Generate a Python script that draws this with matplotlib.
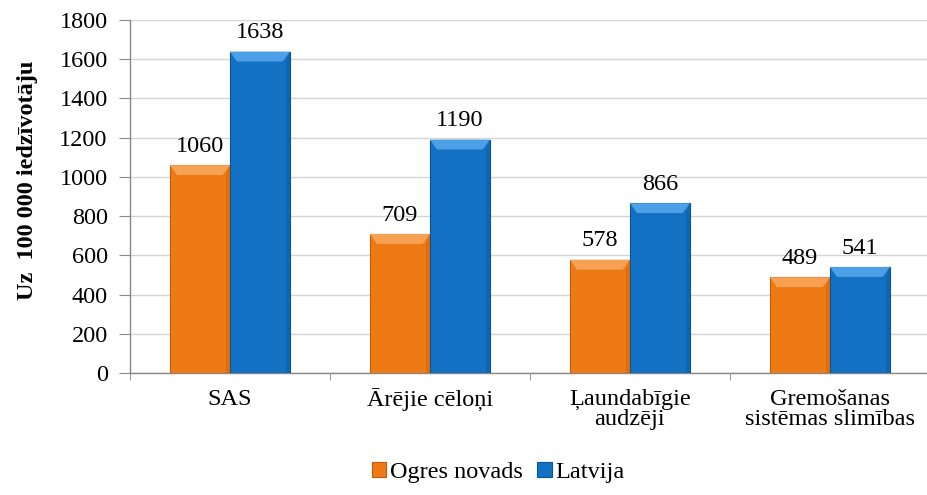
import matplotlib
matplotlib.use("Agg")
import matplotlib.pyplot as plt
import numpy as np
from matplotlib.patches import Polygon

plt.rcParams['font.family'] = ['Liberation Serif', 'DejaVu Serif']

categories = ["SAS", "Ārējie cēloņi", "Ļaundabīgie\naudzēji", "Gremošanas\nsistēmas slimības"]
ogre = [1060, 709, 578, 489]
latvija = [1638, 1190, 866, 541]
series_names = ["Ogres novads", "Latvija"]
yticks = [0, 200, 400, 600, 800, 1000, 1200, 1400, 1600, 1800]

c_orange = '#EE7A15'
c_orange_dark = '#C25C08'
c_orange_light = '#F7A153'
c_blue = '#1371C4'
c_blue_dark = '#0A5396'
c_blue_light = '#4DA0E6'

FS = 17.5

fig = plt.figure(figsize=(9.28, 4.95), dpi=100)
ax = fig.add_axes([0.140, 0.246, 0.862, 0.714])

x = np.arange(len(categories))
w = 0.3

def bevel_bars(xs, vals, color, dark, light, label):
    bars = ax.bar(xs, vals, w, color=color, edgecolor=dark, linewidth=0.8, label=label, zorder=3)
    for b in bars:
        x0 = b.get_x(); x1 = x0 + b.get_width(); h = b.get_height()
        dx = b.get_width() * 0.12
        dy = 1800 * 0.028
        top = Polygon([[x0, h], [x1, h], [x1 - dx, h - dy], [x0 + dx, h - dy]],
                      closed=True, facecolor=light, edgecolor='none', zorder=4)
        ax.add_patch(top)
        side = Polygon([[x1, h], [x1, 0], [x1 - dx * 0.6, 0], [x1 - dx * 0.6, h - dy]],
                       closed=True, facecolor=dark, edgecolor='none', alpha=0.35, zorder=4)
        ax.add_patch(side)
    return bars

b1 = bevel_bars(x - w / 2, ogre, c_orange, c_orange_dark, c_orange_light, series_names[0])
b2 = bevel_bars(x + w / 2, latvija, c_blue, c_blue_dark, c_blue_light, series_names[1])

for bars, vals in ((b1, ogre), (b2, latvija)):
    for b, v in zip(bars, vals):
        ax.annotate(str(v), (b.get_x() + b.get_width() / 2, v), xytext=(0, 6),
                    textcoords='offset points', ha='center', va='bottom',
                    fontsize=FS, zorder=5)

ax.set_xlim(-0.5, len(categories) - 0.5)
ax.set_ylim(0, 1800)
ax.set_yticks(yticks)
ax.set_yticklabels([str(t) for t in yticks], fontsize=FS)
ax.set_xticks(x)
ax.set_xticklabels(categories, fontsize=FS, linespacing=0.95)
ax.tick_params(axis='x', length=0, pad=11)
ax.set_xticks(np.arange(-0.5, len(categories) + 0.5, 1), minor=True)
ax.tick_params(axis='x', which='minor', length=5, color='#888888')
ax.tick_params(axis='y', length=8, color='#888888', pad=8)

ax.yaxis.grid(True, color='#D6D6D6', linewidth=1.0, zorder=0)
ax.set_axisbelow(True)
for s in ['top', 'right']:
    ax.spines[s].set_visible(False)
for s in ['left', 'bottom']:
    ax.spines[s].set_color('#888888')
    ax.spines[s].set_linewidth(1.0)

ax.set_ylabel("Uz  100 000 iedzīvotāju", fontsize=FS, fontweight='bold')
ax.yaxis.set_label_coords(-0.115, 0.547)

leg = fig.legend(loc='lower center', bbox_to_anchor=(0.537, -0.02), ncol=2, frameon=False,
                 fontsize=FS, handlelength=0.6, handleheight=0.6, handletextpad=0.15,
                 columnspacing=0.6)

fig.savefig("out.png", dpi=100)
